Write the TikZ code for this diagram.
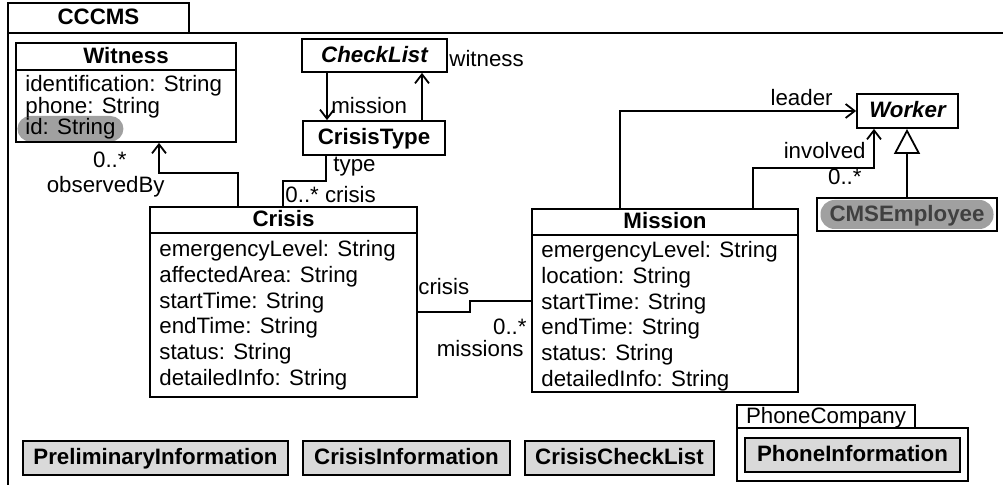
\documentclass[tikz,border=0pt]{standalone}
\usepackage{fontspec}
\setmainfont{Liberation Sans}
\usepackage{tikz}
\usetikzlibrary{arrows.meta, fit}
\definecolor{boxgray}{HTML}{D9D9D9}
\definecolor{hlgray}{HTML}{A0A0A0}
\definecolor{textgray}{HTML}{404040}

\begin{document}
\fontsize{11.15}{12.9}\selectfont
\begin{tikzpicture}[x=0.5pt, y=-0.5pt,
    cls/.style={draw, line width=0.9pt, inner sep=0pt},
    boxtext/.style={text height=0.8em, text depth=0.2em},
    title/.style={boxtext, inner sep=0pt, font=\bfseries},
    attrs/.style={align=left, inner sep=0pt, anchor=north west},
    lbl/.style={inner sep=0pt},
    hilite/.style={fill=hlgray, inner ysep=0pt, inner xsep=4pt,
                   text height=9.5pt, text depth=3.3pt, rounded corners=6.5pt},
    other/.style={cls, boxtext, fill=boxgray, font=\bfseries, minimum height=17pt},
    assoc/.style={line width=0.9pt},
    nav/.style={assoc, -{Straight Barb[length=4.5pt, width=7pt]}},
    gen/.style={assoc, -{Triangle[open, length=12.5pt, width=13pt]}},
]
    \path[use as bounding box] (0,0) rectangle (1003,485);
    \clip (0,0) rectangle (1003,485);

    \node[cls, fit={(8,33) (1030,520)}] (cccms) {};
    \node[cls, title, minimum width=90.5pt, minimum height=15pt] (cccmstab) at (98.5,18) {CCCMS};

    \node[hilite, anchor=base west] (witnessid) at (17,135) {id: String};
    \node[cls, fit={(16,43) (236,142)}] (witness) {};
    \draw[assoc] (witness.west |- 0,70) -- (witness.east |- 0,70);
    \node[title] (witnesst) at (126,56.5) {Witness};
    \node[attrs, font=\fontsize{11.15}{11.15}\selectfont] (witnessa) at (25,75)
        {identification: String\\ phone: String};

    \node[cls, title, minimum width=72.5pt, minimum height=16.5pt, font=\bfseries\itshape]
        (checklist) at (374.5,55.5) {CheckList};
    \node[cls, title, minimum width=71pt, minimum height=17pt] (crisistype) at (374,138) {CrisisType};

    \node[cls, fit={(150,207) (417,397)}] (crisis) {};
    \draw[assoc] (crisis.west |- 0,233) -- (crisis.east |- 0,233);
    \node[title] (crisist) at (283.5,220) {Crisis};
    \node[attrs] (crisisa) at (159,240)
        {emergencyLevel: String\\ affectedArea: String\\ startTime: String\\
         endTime: String\\ status: String\\ detailedInfo: String};

    \node[cls, fit={(532,209) (798,392)}] (mission) {};
    \draw[assoc] (mission.west |- 0,235) -- (mission.east |- 0,235);
    \node[title] (missiont) at (665,222) {Mission};
    \node[attrs] (missiona) at (541,241)
        {emergencyLevel: String\\ location: String\\ startTime: String\\
         endTime: String\\ status: String\\ detailedInfo: String};

    \node[cls, title, minimum width=50.5pt, minimum height=17pt, font=\bfseries\itshape]
        (worker) at (907.5,111) {Worker};
    \node[cls, fit={(817,198) (997,231)}] (cmsemp) {};
    \node[hilite, title, text=textgray, minimum width=86.5pt, minimum height=14.5pt,
          rounded corners=7pt] (cmsempt) at (cmsemp.center) {CMSEmployee};

    \foreach \n/\t/\x/\w in {prelim/PreliminaryInformation/155.5/132.5pt,
                             crisisinfo/CrisisInformation/406.5/103.5pt,
                             crisischeck/CrisisCheckList/619.5/94.5pt}
        \node[other, minimum width=\w] (\n) at (\x,458) {\t};
    \node[cls, boxtext, inner sep=0pt, minimum width=89pt, minimum height=11.5pt]
        (phonetab) at (826,416.5) {PhoneCompany};
    \node[cls, fit={(737,428) (968,481)}] (phonepkg) {};
    \node[other, minimum width=107.5pt] (phoneinfo) at (852.5,455) {PhoneInformation};

    \draw[nav] (238,0 |- crisis.north) |- (159,173) -- (159,0 |- witness.south);
    \node[lbl, anchor=base east] (obsmult) at (127,168) {0..*};
    \node[lbl, anchor=base east] (obsrole) at (165,193) {observedBy};

    \draw[assoc] (326,0 |- crisistype.south) |- (283,181) -- (283,0 |- crisis.north);
    \node[lbl, anchor=base west] (typerole) at (333,172) {type};
    \node[lbl, anchor=base west] (crisisrole) at (285,203) {0..* crisis};

    \foreach \x/\a/\b in {327/checklist.south/crisistype.north,
                          422/crisistype.north/checklist.south}
        \draw[nav] (\x,0 |- \a) -- (\x,0 |- \b);
    \node[lbl, anchor=base west] (missionrole) at (331,114) {mission};
    \node[lbl, anchor=base west] (witnessrole) at (449,67) {witness};

    \draw[nav] (620,0 |- mission.north) |- (worker.west);
    \node[lbl, anchor=base east] (leaderrole) at (833,106) {leader};
    \draw[nav] (753,0 |- mission.north) |- (874,168) -- (874,0 |- worker.south);
    \node[lbl, anchor=base east] (involvedrole) at (866,159) {involved};
    \node[lbl, anchor=base east] (involvedmult) at (862,185) {0..*};
    \draw[gen] (cmsemp.north) -- (cmsemp.north |- worker.south);

    \draw[assoc] (crisis.east |- 0,312) -| (470,301) -- (mission.west |- 0,301);
    \node[lbl, anchor=base west] (crisisend) at (418,295) {crisis};
    \node[lbl, anchor=base east] (missionsmult) at (527,335) {0..*};
    \node[lbl, anchor=base east] (missionsrole) at (524,357) {missions};
\end{tikzpicture}
\end{document}
